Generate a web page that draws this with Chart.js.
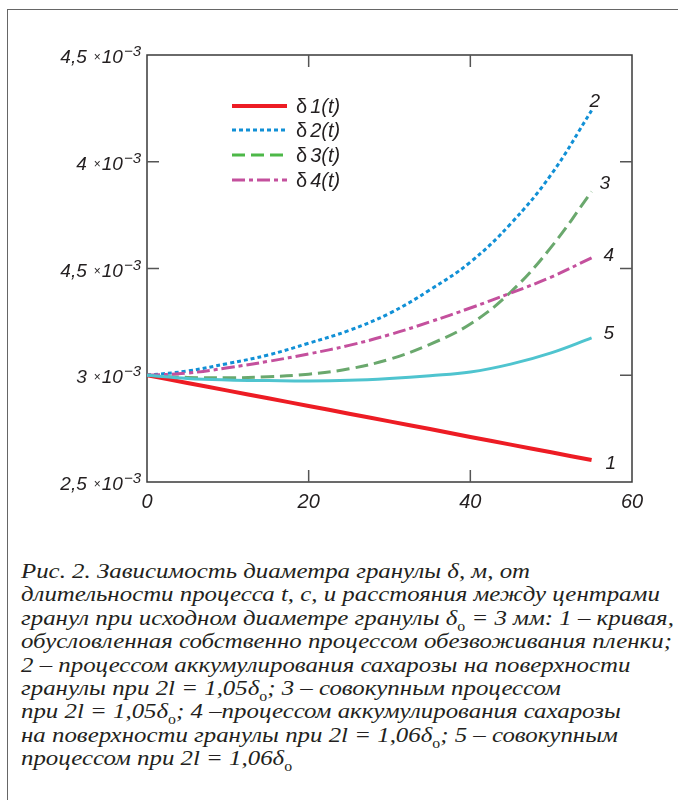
<!DOCTYPE html>
<html>
<head>
<meta charset="utf-8">
<script src="https://cdn.jsdelivr.net/npm/chart.js@4.4.1/dist/chart.umd.min.js"></script>
<style>
    html, body {margin: 0; padding: 0; background: #fff;}
    body {width: 678px; height: 800px; position: relative; overflow: hidden;}
    #frame {position: absolute; left: 7px; top: 9px; right: 0; bottom: 0;
        border-left: 1.5px solid #666; border-top: 1.5px solid #666;}
    #wrap {position: absolute; left: 0; top: 0; width: 678px; height: 540px;}
    #caption {position: absolute; left: 21px; top: 559px; white-space: nowrap;
        font-family: "Liberation Serif", "DejaVu Serif", serif; font-style: italic;
        font-size: 22px; line-height: 23.4px; color: #231f20;
        transform: scaleX(1.13); transform-origin: 0 0;}
    #caption sub {font-size: 14px; vertical-align: -6px; line-height: 0; font-style: normal;}
</style>
</head>
<body>
<div id="frame"></div>
<div id="wrap"><canvas id="chart" width="678" height="540"></canvas></div>
<div id="caption">
    Рис. 2. Зависимость диаметра гранулы δ, м, от<br>
    длительности процесса t, с, и расстояния между центрами<br>
    гранул при исходном диаметре гранулы δ<sub>о</sub> = 3 мм: 1 – кривая,<br>
    обусловленная собственно процессом обезвоживания пленки;<br>
    2 – процессом аккумулирования сахарозы на поверхности<br>
    гранулы при 2l = 1,05δ<sub>о</sub>; 3 – совокупным процессом<br>
    при 2l = 1,05δ<sub>о</sub>; 4 –процессом аккумулирования сахарозы<br>
    на поверхности гранулы при 2l = 1,06δ<sub>о</sub>; 5 – совокупным<br>
    процессом при 2l = 1,06δ<sub>о</sub>
</div>
<script>
// time, s
const tValues = [0, 5, 10, 15, 20, 25, 30, 35, 40, 45, 50, 55];
// granule diameter, in units of 1e-3 m
const delta1 = [3.00, 2.964, 2.928, 2.892, 2.856, 2.82, 2.784, 2.748, 2.711, 2.675, 2.639, 2.603];
const delta2 = [3.00, 3.02, 3.055, 3.095, 3.15, 3.21, 3.29, 3.40, 3.53, 3.71, 3.94, 4.24];
const delta3 = [3.00, 2.99, 2.988, 2.993, 3.005, 3.03, 3.075, 3.145, 3.24, 3.39, 3.60, 3.86];
const delta4 = [3.00, 3.01, 3.035, 3.065, 3.10, 3.14, 3.19, 3.25, 3.315, 3.385, 3.46, 3.55];
const delta5 = [3.00, 2.985, 2.978, 2.975, 2.973, 2.976, 2.985, 2.998, 3.015, 3.052, 3.105, 3.175];

const xTicks = [0, 20, 40, 60];
const xTickLabels = ['0', '20', '40', '60'];
const yTicks = [2.5, 3, 3.5, 4, 4.5];
// the 3.5 label is printed as "4,5" in the source figure
const yTickLabels = ['2,5', '3', '4,5', '4', '4,5'];
const legendLabels = ['1(t)', '2(t)', '3(t)', '4(t)'];
const curveNumbers = ['1', '2', '3', '4', '5'];

const toPoints = (ys) => tValues.map((t, i) => ({x: t, y: ys[i]}));

const seriesStyle = [
    {data: delta1, color: '#ed1c24', width: 4, dash: [], legendColor: '#ed1c24'},
    {data: delta2, color: '#1190d6', width: 3, dash: [4, 3], legendColor: '#1190d6'},
    {data: delta3, color: '#6aa86d', width: 3, dash: [13, 6], legendColor: '#4db848'},
    {data: delta4, color: '#c4509d', width: 3, dash: [13, 4, 4, 4], legendColor: '#c4509d'},
    {data: delta5, color: '#4fc4cf', width: 3, dash: [], legendColor: '#4fc4cf'},
];

// pixel nudges for the curve numbers, relative to each curve's last point
const numberOffset = [[14, 2], [-2, -11], [8, -10], [12, -4], [12, -6]];

const SANS = '"Liberation Sans", Arial, sans-serif';

const decorations = {
    id: 'decorations',
    beforeDatasetsDraw(chart) {
        const {ctx, chartArea: a, scales: {x, y}} = chart;
        ctx.save();
        ctx.strokeStyle = '#3a3a3a';
        ctx.lineWidth = 1.5;
        ctx.strokeRect(a.left, a.top, a.right - a.left, a.bottom - a.top);
        // inward ticks on all four sides
        ctx.strokeStyle = '#555';
        const len = 12;
        xTicks.slice(1, -1).forEach((v) => {
            const px = x.getPixelForValue(v);
            ctx.beginPath();
            ctx.moveTo(px, a.bottom); ctx.lineTo(px, a.bottom - len);
            ctx.moveTo(px, a.top); ctx.lineTo(px, a.top + len);
            ctx.stroke();
        });
        yTicks.slice(1, -1).forEach((v) => {
            const py = y.getPixelForValue(v);
            ctx.beginPath();
            ctx.moveTo(a.left, py); ctx.lineTo(a.left + len, py);
            ctx.moveTo(a.right, py); ctx.lineTo(a.right - len, py);
            ctx.stroke();
        });
        ctx.restore();
    },
    afterDraw(chart) {
        const {ctx, chartArea: a, scales: {x, y}} = chart;
        ctx.save();
        ctx.fillStyle = '#231f20';
        ctx.textBaseline = 'alphabetic';

        // y tick labels: "n ×10^-3"
        const right = a.left - 6;
        yTicks.forEach((v, i) => {
            const base = y.getPixelForValue(v) + 8;
            ctx.textAlign = 'left';
            ctx.font = 'italic 15px ' + SANS;
            const supW = ctx.measureText('\u22123').width;
            ctx.font = 'italic 19px ' + SANS;
            const tenW = ctx.measureText('10').width;
            ctx.font = '12px ' + SANS;
            const timesW = ctx.measureText('\u00d7').width;
            let cx = right - supW;
            ctx.font = 'italic 15px ' + SANS;
            ctx.fillText('\u22123', cx, base - 7);
            cx -= tenW + 1;
            ctx.font = 'italic 19px ' + SANS;
            ctx.fillText('10', cx, base);
            cx -= timesW + 1;
            ctx.font = '12px ' + SANS;
            ctx.fillText('\u00d7', cx, base - 2);
            ctx.font = 'italic 19px ' + SANS;
            ctx.textAlign = 'right';
            ctx.fillText(yTickLabels[i], cx - 7, base);
        });

        // x tick labels
        ctx.font = 'italic 20px ' + SANS;
        ctx.textAlign = 'center';
        xTicks.forEach((v, i) => {
            ctx.fillText(xTickLabels[i], x.getPixelForValue(v), a.bottom + 26);
        });

        // legend
        const lx0 = 232, lx1 = 287, rows = [106, 130, 155, 180];
        legendLabels.forEach((label, i) => {
            const s = seriesStyle[i];
            ctx.save();
            ctx.strokeStyle = s.legendColor;
            ctx.lineWidth = s.width;
            ctx.setLineDash(s.dash);
            ctx.beginPath();
            ctx.moveTo(lx0, rows[i]);
            ctx.lineTo(lx1, rows[i]);
            ctx.stroke();
            ctx.restore();
            ctx.textAlign = 'left';
            ctx.font = '20px ' + SANS;
            ctx.fillText('\u03b4', 296, rows[i] + 7);
            const dw = ctx.measureText('\u03b4').width;
            ctx.font = 'italic 20px ' + SANS;
            ctx.fillText(label, 296 + dw + 3, rows[i] + 7);
        });

        // curve numbers at the line ends
        ctx.font = 'italic 19px ' + SANS;
        ctx.textAlign = 'left';
        seriesStyle.forEach((s, i) => {
            const last = s.data.length - 1;
            const px = x.getPixelForValue(tValues[last]) + numberOffset[i][0];
            const py = y.getPixelForValue(s.data[last]) + numberOffset[i][1];
            ctx.fillText(curveNumbers[i], px, py + 7);
        });
        ctx.restore();
    }
};

new Chart(document.getElementById('chart'), {
    type: 'line',
    data: {
        datasets: seriesStyle.map((s, i) => ({
            label: 'δ' + (i + 1),
            data: toPoints(s.data),
            borderColor: s.color,
            borderWidth: s.width,
            borderDash: s.dash,
            borderCapStyle: 'butt',
            pointRadius: 0,
            fill: false,
            tension: 0.4,
        })).reverse()
    },
    options: {
        responsive: false,
        animation: false,
        layout: {padding: {left: 147, top: 55, right: 46, bottom: 58}},
        plugins: {legend: {display: false}, tooltip: {enabled: false}},
        scales: {
            x: {type: 'linear', min: 0, max: 60, display: false},
            y: {type: 'linear', min: 2.5, max: 4.5, display: false},
        }
    },
    plugins: [decorations]
});
</script>
</body>
</html>
